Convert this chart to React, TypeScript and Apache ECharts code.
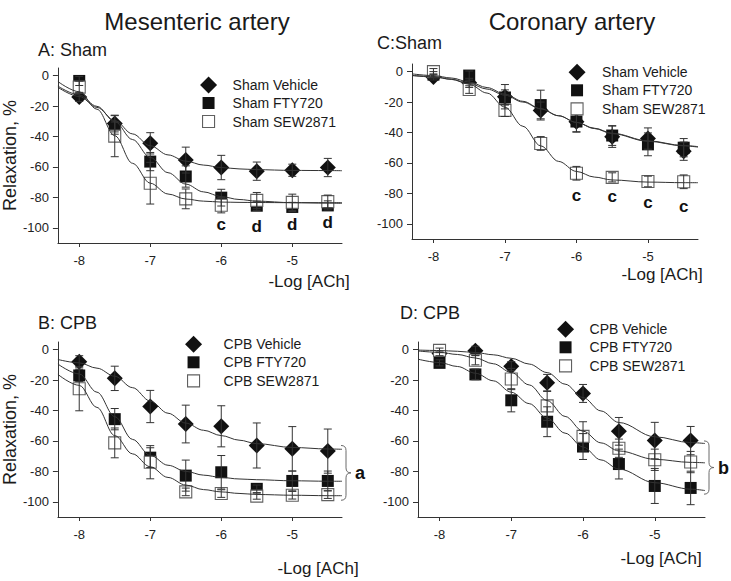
import React, { useEffect, useRef } from 'react';
import * as echarts from 'echarts';

const FONT = '"Liberation Sans", Arial, Helvetica, sans-serif';

// -log[ACh] doses
const doses = [-8, -7.5, -7, -6.5, -6, -5.5, -5, -4.5];
const xTickValues = [-8, -7, -6, -5];
const yTickValues = [0, -20, -40, -60, -80, -100];

// Panel A: mesenteric, sham
const aVehicle = [-14, -31.5, -44.5, -55.5, -60.4, -62.8, -62.2, -60.4];
const aVehicleErr = [3, 5.5, 7, 8.5, 8, 6, 4, 6];
const aFty = [-3.5, -34.5, -56.5, -66.3, -80.2, -85.5, -86.3, -85.3];
const aFtyErr = [3, 4, 6, 7, 5.5, 3, 3, 3];
const aSew = [-7.6, -39.8, -70.7, -81, -85.2, -82, -83.3, -82.8];
const aSewErr = [4, 13.5, 13.7, 6.5, 5, 5.2, 5.4, 4.3];

// Panel C: coronary, sham
const cVehicle = [-3.5, -7.4, -16.5, -25.5, -33, -42.8, -44, -52.3];
const cVehicleErr = [2, 3, 8, 5.5, 6.5, 7, 7, 6];
const cFty = [-2, -2.6, -17, -22, -32.8, -42, -47.8, -50];
const cFtyErr = [2, 3, 5, 9.8, 7, 6.5, 7.5, 6];
const cSew = [0, -11.8, -25.5, -47.2, -66.8, -69.5, -72.2, -72.4];
const cSewErr = [2, 2.5, 4, 4.5, 4.5, 3, 3.5, 4.5];

// Panel B: mesenteric, CPB
const bVehicle = [-8, -18.9, -37.4, -48.9, -50.4, -63, -65.2, -66.7];
const bVehicleErr = [4, 8, 10.6, 12.4, 13.5, 14.8, 14.6, 14.5];
const bFty = [-17, -45.7, -71, -82.8, -80.6, -91.5, -86.3, -86.3];
const bFtyErr = [4, 7, 6.5, 10.2, 11, 2.5, 6.5, 6.5];
const bSew = [-25.7, -61.3, -74, -93.5, -94.6, -96.3, -95.7, -95.3];
const bSewErr = [14.5, 9.8, 10.9, 2.5, 2.5, 2, 2.5, 2.5];

// Panel D: coronary, CPB
const dVehicle = [-2.5, -0.8, -10.9, -21.7, -28.8, -53.7, -59.8, -59.8];
const dVehicleErr = [1.5, 3, 3, 5.4, 5.9, 9.1, 12, 9.3];
const dFty = [-8.7, -16.3, -33.3, -47.4, -63.7, -75.2, -89.6, -90.9];
const dFtyErr = [2, 3.5, 7.6, 9.8, 8.5, 9.8, 11.5, 11];
const dSew = [-0.5, -7, -19.3, -37, -57, -64.8, -72.4, -73.9];
const dSewErr = [1.5, 3, 7, 9.5, 9.6, 6, 7, 7];

// Fitted curves
const curveX = [-8.3, -8, -7.75, -7.5, -7.25, -7, -6.75, -6.5, -6.25, -6, -5.75, -5.5, -5, -4.5, -4.3];
const aVehicleFit = [-7.7, -13.7, -20.9, -29.5, -38.3, -46.1, -52.1, -56.2, -58.8, -60.4, -61.3, -61.8, -62.3, -62.4, -62.5];
const aFtyFit = [-6.9, -12.7, -20.2, -30.2, -42, -53.8, -63.8, -71.3, -76.4, -79.5, -81.4, -82.5, -83.5, -83.8, -83.9];
const aSewFit = [-3.9, -10.6, -22.1, -39.5, -57.6, -70.7, -77.8, -81.1, -82.5, -83.1, -83.3, -83.4, -83.5, -83.5, -83.5];
const cVehicleFit = [-2.5, -3.2, -5, -7.8, -11.5, -15.5, -20, -24.5, -29, -33.3, -37.2, -40.5, -45.5, -48.6, -49.3];
const cFtyFit = [-1.5, -2.6, -4.2, -6.8, -10.5, -14.8, -19.5, -24.3, -29, -33.4, -37.4, -40.8, -45.8, -48.8, -49.6];
const cSewFit = [-2.6, -3.5, -5.1, -8.3, -14.1, -23.4, -35.9, -48.8, -59, -65.6, -69.3, -71.2, -72.6, -73, -73];
const bVehicleFit = [-6.5, -8.7, -12.2, -17.5, -25, -33.8, -41.8, -48.3, -53, -56.5, -59.5, -61.8, -64.3, -65.3, -65.5];
const bFtyFit = [-9.5, -16, -28, -44, -59, -69.5, -76, -80, -82.5, -84, -85, -85.5, -86.2, -86.5, -86.5];
const bSewFit = [-16.3, -23.5, -38, -56.5, -68.5, -77, -84, -89, -92, -93.5, -94.5, -95.2, -95.7, -96, -96];
const dVehicleFit = [-0.3, -0.6, -1.1, -1.9, -3.4, -5.7, -9.5, -15.1, -22.7, -31.5, -40.3, -47.9, -57.3, -61.1, -61.7];
const dFtyFit = [-6.3, -8.5, -11.1, -15.5, -20.5, -28, -35.5, -45, -54.9, -64, -72.5, -78.5, -87.5, -91.7, -92.6];
const dSewFit = [-0.9, -1.8, -3.2, -5.5, -9.3, -15, -23.2, -33.5, -43.9, -53.6, -61.3, -66.6, -72.1, -74.1, -74.4];

// Significance letters
const aLetters = ['c', 'd', 'd', 'd'];
const aLetterX = [-6, -5.5, -5, -4.5];
const aLetterY = [-98, -99, -98, -96.5];
const cLetters = ['c', 'c', 'c', 'c'];
const cLetterX = [-6, -5.5, -5, -4.5];
const cLetterY = [-81.7, -82.3, -86, -88.6];

// Braces (x, top, bottom)
const bBrace = { label: 'a', x: -4.3, top: -63, bottom: -99 };
const dBrace = { label: 'b', x: -4.3, top: -60, bottom: -95 };

const shamNames = ['Sham Vehicle', 'Sham FTY720', 'Sham SEW2871'];
const cpbNames = ['CPB Vehicle', 'CPB FTY720', 'CPB SEW2871'];

const INK = '#111111';
const LINE = '#333333';
const OPEN_EDGE = '#606060';

const markerStyles = [
  { symbol: 'diamond', size: 16, itemStyle: { color: INK, opacity: 1 } },
  { symbol: 'rect', size: 12, itemStyle: { color: INK, opacity: 1 } },
  { symbol: 'rect', size: 12, itemStyle: { color: '#ffffff', borderColor: OPEN_EDGE, borderWidth: 1.1, opacity: 1 } },
];

// legend square icon that keeps a margin inside a 17px box
const LEGEND_SQUARE = 'path://M0,0M17,17M2.5,2.5L14.5,2.5L14.5,14.5L2.5,14.5Z';

type Panel = {
  grid: any;
  names: string[];
  vals: number[][];
  errs: number[][];
  fits: number[][];
  yName: boolean;
  legend: { left: number; top: number; textPad: number };
  letters?: { t: string[]; x: number[]; y: number[] };
  brace?: { label: string; x: number; top: number; bottom: number };
};

const panels: Panel[] = [
  {
    grid: { left: 55, top: 68, width: 287, height: 175 },
    names: shamNames,
    vals: [aVehicle, aFty, aSew],
    errs: [aVehicleErr, aFtyErr, aSewErr],
    fits: [aVehicleFit, aFtyFit, aSewFit],
    yName: true,
    legend: { left: 199.5, top: 76.5, textPad: 10.5 },
    letters: { t: aLetters, x: aLetterX, y: aLetterY },
  },
  {
    grid: { left: 412, top: 64, width: 286, height: 175 },
    names: shamNames,
    vals: [cVehicle, cFty, cSew],
    errs: [cVehicleErr, cFtyErr, cSewErr],
    fits: [cVehicleFit, cFtyFit, cSewFit],
    yName: false,
    legend: { left: 568, top: 63.8, textPad: 11.5 },
    letters: { t: cLetters, x: cLetterX, y: cLetterY },
  },
  {
    grid: { left: 55, top: 342, width: 287, height: 175 },
    names: cpbNames,
    vals: [bVehicle, bFty, bSew],
    errs: [bVehicleErr, bFtyErr, bSewErr],
    fits: [bVehicleFit, bFtyFit, bSewFit],
    yName: true,
    legend: { left: 184.5, top: 335.8, textPad: 16.5 },
    brace: bBrace,
  },
  {
    grid: { left: 418, top: 342, width: 287, height: 175 },
    names: cpbNames,
    vals: [dVehicle, dFty, dSew],
    errs: [dVehicleErr, dFtyErr, dSewErr],
    fits: [dVehicleFit, dFtyFit, dSewFit],
    yName: false,
    legend: { left: 556.5, top: 320.8, textPad: 10.5 },
    brace: dBrace,
  },
];

function errorBarRender(params: any, api: any) {
  const x = api.value(0);
  const y = api.value(1);
  const e = api.value(2);
  const t = api.coord([x, y + e]);
  const b = api.coord([x, y - e]);
  const cw = 4;
  const st = { stroke: '#333', lineWidth: 1, fill: null };
  return {
    type: 'group',
    children: [
      { type: 'line', shape: { x1: t[0], y1: t[1], x2: b[0], y2: b[1] }, style: st },
      { type: 'line', shape: { x1: t[0] - cw, y1: t[1], x2: t[0] + cw, y2: t[1] }, style: st },
      { type: 'line', shape: { x1: b[0] - cw, y1: b[1], x2: b[0] + cw, y2: b[1] }, style: st },
    ],
  };
}

function buildOption() {
  const series: any[] = [];
  panels.forEach((p, i) => {
    p.names.forEach((name, g) => {
      const m = markerStyles[g];
      series.push({
        type: 'scatter',
        name,
        xAxisIndex: i,
        yAxisIndex: i,
        symbol: m.symbol,
        symbolSize: m.size,
        itemStyle: m.itemStyle,
        emphasis: { disabled: true },
        data: doses.map((x, k) => [x, p.vals[g][k]]),
        z: 2,
      });
    });
    p.names.forEach((name, g) => {
      series.push({
        type: 'custom',
        name: name + ' SEM',
        xAxisIndex: i,
        yAxisIndex: i,
        renderItem: errorBarRender,
        encode: { x: 0, y: 1 },
        data: doses.map((x, k) => [x, p.vals[g][k], p.errs[g][k]]),
        z: 3,
        silent: true,
      });
      series.push({
        type: 'line',
        name: name + ' fit',
        xAxisIndex: i,
        yAxisIndex: i,
        data: curveX.map((x, k) => [x, p.fits[g][k]]),
        showSymbol: false,
        symbol: 'none',
        smooth: 0.35,
        smoothMonotone: 'x',
        lineStyle: { color: LINE, width: 1 },
        z: 3,
        silent: true,
      });
    });
    if (p.letters) {
      const L = p.letters;
      series.push({
        type: 'custom',
        name: 'letters' + i,
        xAxisIndex: i,
        yAxisIndex: i,
        encode: { x: 0, y: 1 },
        data: L.x.map((x, k) => [x, L.y[k]]),
        renderItem: (params: any, api: any) => {
          const c = api.coord([api.value(0), api.value(1)]);
          return {
            type: 'text',
            style: {
              text: L.t[params.dataIndex],
              x: c[0],
              y: c[1],
              align: 'center',
              verticalAlign: 'middle',
              textAlign: 'center',
              textVerticalAlign: 'middle',
              font: 'bold 17px ' + FONT,
              fill: INK,
            },
          };
        },
        z: 4,
        silent: true,
      });
    }
    if (p.brace) {
      const B = p.brace;
      series.push({
        type: 'custom',
        name: 'brace' + i,
        xAxisIndex: i,
        yAxisIndex: i,
        encode: { x: 0, y: [1, 2] },
        clip: false,
        data: [[B.x, B.top, B.bottom]],
        renderItem: (params: any, api: any) => {
          const t = api.coord([api.value(0), api.value(1)]);
          const b = api.coord([api.value(0), api.value(2)]);
          const x0 = t[0] - 1;
          const xs = x0 + 5;
          const xt = x0 + 10;
          const y0 = t[1];
          const y1 = b[1];
          const ym = (y0 + y1) / 2;
          const r = 5;
          const st = { stroke: '#6a6a6a', lineWidth: 1, fill: null };
          return {
            type: 'group',
            children: [
              { type: 'bezierCurve', shape: { x1: x0, y1: y0, x2: xs, y2: y0 + r, cpx1: xs, cpy1: y0 }, style: st },
              { type: 'line', shape: { x1: xs, y1: y0 + r, x2: xs, y2: ym - r }, style: st },
              { type: 'bezierCurve', shape: { x1: xs, y1: ym - r, x2: xt, y2: ym, cpx1: xs, cpy1: ym }, style: st },
              { type: 'bezierCurve', shape: { x1: xt, y1: ym, x2: xs, y2: ym + r, cpx1: xs, cpy1: ym }, style: st },
              { type: 'line', shape: { x1: xs, y1: ym + r, x2: xs, y2: y1 - r }, style: st },
              { type: 'bezierCurve', shape: { x1: xs, y1: y1 - r, x2: x0, y2: y1, cpx1: xs, cpy1: y1 }, style: st },
              {
                type: 'text',
                style: {
                  text: B.label,
                  x: xt + 4,
                  y: ym,
                  align: 'left',
                  verticalAlign: 'middle',
                  textAlign: 'left',
                  textVerticalAlign: 'middle',
                  font: 'bold 18px ' + FONT,
                  fill: INK,
                },
              },
            ],
          };
        },
        z: 4,
        silent: true,
      });
    }
  });

  const axisLineStyle = { color: '#333', width: 1 };
  const labelStyle = { fontSize: 13, color: '#222', fontFamily: FONT };

  const textEl = (text: string, x: number, y: number, size: number, align = 'center') => ({
    type: 'text',
    x,
    y,
    style: {
      text,
      font: size + 'px ' + FONT,
      fill: '#1a1a1a',
      align,
      verticalAlign: 'middle',
      textAlign: align,
      textVerticalAlign: 'middle',
    },
  });

  return {
    animation: false,
    backgroundColor: '#ffffff',
    grid: panels.map((p) => ({ ...p.grid })),
    xAxis: panels.map((p, i) => ({
      type: 'value',
      gridIndex: i,
      min: -8.3,
      max: -4.3,
      splitLine: { show: false },
      axisLine: { show: true, onZero: false, lineStyle: axisLineStyle },
      axisTick: { show: true, length: 4, customValues: xTickValues, lineStyle: axisLineStyle },
      axisLabel: { ...labelStyle, margin: 11, customValues: xTickValues },
    })),
    yAxis: panels.map((p, i) => ({
      type: 'value',
      gridIndex: i,
      min: -110,
      max: 5,
      splitLine: { show: false },
      axisLine: { show: true, onZero: false, lineStyle: axisLineStyle },
      axisTick: { show: true, length: 5, customValues: yTickValues, lineStyle: axisLineStyle },
      axisLabel: { ...labelStyle, margin: 9, customValues: yTickValues },
      name: p.yName ? 'Relaxation, %' : '',
      nameLocation: 'middle',
      nameGap: 37,
      nameTextStyle: { fontSize: 18, color: '#1a1a1a', fontFamily: FONT },
    })),
    legend: panels.map((p) => ({
      orient: 'vertical',
      left: p.legend.left,
      top: p.legend.top,
      itemWidth: 17,
      itemHeight: 17,
      itemGap: 1,
      padding: 0,
      selectedMode: false,
      textStyle: { fontSize: 14, color: '#1a1a1a', fontFamily: FONT, padding: [0, 0, 0, p.legend.textPad] },
      data: [
        { name: p.names[0], icon: 'diamond', itemStyle: { color: INK, opacity: 1 } },
        { name: p.names[1], icon: LEGEND_SQUARE, itemStyle: { color: INK, opacity: 1 } },
        {
          name: p.names[2],
          icon: LEGEND_SQUARE,
          itemStyle: { color: '#ffffff', borderColor: OPEN_EDGE, borderWidth: 1.1, opacity: 1 },
        },
      ],
    })),
    graphic: [
      textEl('Mesenteric artery', 197, 21, 24),
      textEl('Coronary artery', 572, 21, 24),
      textEl('A: Sham', 38, 50, 18, 'left'),
      textEl('C:Sham', 377, 43, 18, 'left'),
      textEl('B: CPB', 38, 323, 18, 'left'),
      textEl('D: CPB', 400, 313, 18, 'left'),
      textEl('-Log [ACh]', 309, 281, 17),
      textEl('-Log [ACh]', 662, 274, 17),
      textEl('-Log [ACh]', 318, 568, 17),
      textEl('-Log [ACh]', 661, 558, 17),
    ],
    series,
  };
}

export default function App() {
  const ref = useRef<HTMLDivElement>(null);
  useEffect(() => {
    if (!ref.current) return;
    const chart = echarts.init(ref.current, null, { renderer: 'svg' });
    chart.setOption(buildOption() as any);
    return () => chart.dispose();
  }, []);
  return (
    <div
      ref={ref}
      style={{ position: 'absolute', left: 0, top: 0, width: 731, height: 581, background: '#fff' }}
    />
  );
}
